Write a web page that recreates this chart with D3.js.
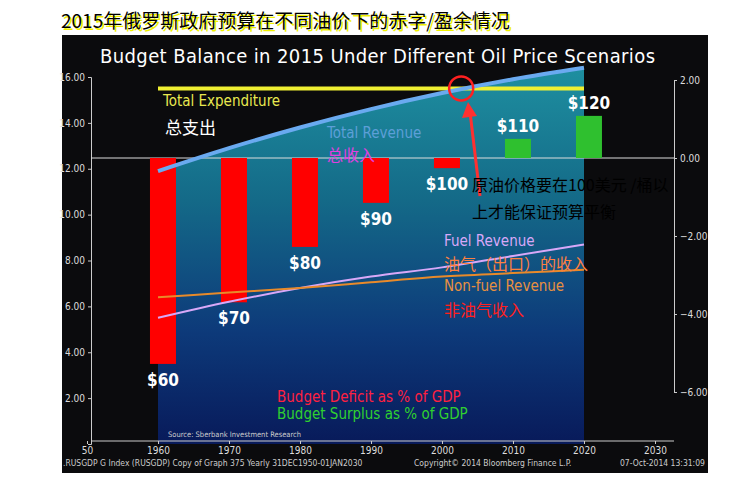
<!DOCTYPE html>
<html><head><meta charset="utf-8">
<script src="https://cdn.jsdelivr.net/npm/d3@7"></script>
<style>body{margin:0;background:#fff}svg{font-family:"DejaVu Sans Condensed",sans-serif}</style>
</head><body><svg id="c" width="732" height="503"></svg>
<script>
// data
var prices = ["$60","$70","$80","$90","$100","$110","$120"];
var balance = [-5.28,-3.7,-2.28,-1.15,-0.26,0.49,1.08];   // % of GDP, right axis
var years = [1960,1970,1980,1990,2000,2010,2020];
var totalRevenue = [11.9,12.9,13.8,14.6,15.3,15.9,16.4];
var totalExpenditure = [15.5,15.5,15.5,15.5,15.5,15.5,15.5];
var fuelRevenue = [5.5,6.2,6.8,7.3,7.7,8.2,8.7];
var nonFuelRevenue = [6.4,6.6,6.8,7.05,7.3,7.45,7.6];
var xTicks = [1950,1960,1970,1980,1990,2000,2010,2020,2030];
var leftTicks = [2,4,6,8,10,12,14,16];
var rightTicks = [-6,-4,-2,0,2];

var svg = d3.select("#c");
var x = d3.scaleLinear().domain([1950,2030]).range([87,655]);
var yL = d3.scaleLinear().domain([0,16]).range([444,77]);
var yR = d3.scaleLinear().domain([-6,2]).range([392,80]);

svg.append("rect").attr("x",62).attr("y",35).attr("width",646).attr("height",438).attr("fill","#0b0b0d");

var defs = svg.append("defs");
var g = defs.append("linearGradient").attr("id","ar").attr("x1",0).attr("y1",0).attr("x2",0).attr("y2",1);
g.append("stop").attr("offset","0%").attr("stop-color","#1e8fa0");
g.append("stop").attr("offset","35%").attr("stop-color","#146a88");
g.append("stop").attr("offset","70%").attr("stop-color","#0d3a7a");
g.append("stop").attr("offset","100%").attr("stop-color","#081a5a");

var area = d3.area().x(function(d,i){return x(years[i]);}).y0(yL(0)).y1(function(d){return yL(d);}).curve(d3.curveMonotoneX);
svg.append("path").datum(totalRevenue).attr("d",area).attr("fill","url(#ar)");

// axes
var ax = svg.append("g").attr("transform","translate(0,441)")
  .call(d3.axisBottom(x).tickValues(xTicks).tickSize(3).tickFormat(function(d){return d==1950?"50":d;}));
var al = svg.append("g").attr("transform","translate(91,0)").call(d3.axisLeft(yL).tickValues(leftTicks).tickSize(3).tickFormat(d3.format(".2f")));
var ar = svg.append("g").attr("transform","translate(674,0)").call(d3.axisRight(yR).tickValues(rightTicks).tickSize(3).tickFormat(d3.format(".2f")));
[ax,al,ar].forEach(function(a){
  a.selectAll("path,line").attr("stroke","#ccc");
  a.selectAll("text").attr("fill","#ddd").style("font-size","10px").style("font-family","'DejaVu Sans Condensed',sans-serif");
});
ax.select(".domain").attr("d","M91,0H674");

// zero line of right axis
svg.append("line").attr("x1",91).attr("x2",674).attr("y1",yR(0)).attr("y2",yR(0)).attr("stroke","#ddd").attr("stroke-width",1);

// bars
var bw = 26;
svg.selectAll(".bar").data(balance).enter().append("rect")
  .attr("x",function(d,i){return x(years[i]+0.7)-bw/2;})
  .attr("width",bw)
  .attr("y",function(d){return yR(Math.max(0,d));})
  .attr("height",function(d){return Math.abs(yR(d)-yR(0));})
  .attr("fill",function(d){return d<0?"#ff0000":"#2fc02f";});
svg.selectAll(".bl").data(balance).enter().append("text")
  .attr("x",function(d,i){return x(years[i]+0.7);})
  .attr("y",function(d){return d<0?yR(d)+22:yR(d)-7;})
  .attr("text-anchor","middle").attr("fill","#fff").style("font-weight","bold").style("font-size","17px")
  .text(function(d,i){return prices[i];});

function line(data,color,w){
  svg.append("path").datum(data).attr("fill","none").attr("stroke",color).attr("stroke-width",w)
    .attr("d",d3.line().x(function(d,i){return x(years[i]);}).y(function(d){return yL(d);}).curve(d3.curveMonotoneX));
}
line(totalExpenditure,"#f0f032",4);
line(totalRevenue,"#6aaaf0",4);
line(fuelRevenue,"#d8a8f8",2);
line(nonFuelRevenue,"#e88a2a",2);

function txt(t,xx,yy,col,sz,fam){
  return svg.append("text").attr("x",xx).attr("y",yy).attr("fill",col).style("font-size",sz+"px").style("font-family",fam||null).text(t);
}
var cjk = "'Noto Sans CJK SC',sans-serif";
txt("Budget Balance in 2015 Under Different Oil Price Scenarios",100,63,"#fff",20).attr("textLength",555);
txt("Total Expenditure",163,106,"#e8e850",15);
txt("总支出",165,134,"#fff",17,cjk);
txt("Total Revenue",327,138,"#5d9fd8",15);
txt("总收入",327,161,"#e040e0",16,cjk);
txt("Fuel Revenue",444,246,"#d8a8f8",15);
txt("油气（出口）的收入",444,270,"#ff8040",16,cjk);
txt("Non-fuel Revenue",444,291,"#e89040",15);
txt("非油气收入",444,316,"#ff2020",16,cjk);
txt("Budget Deficit as % of GDP",277,402,"#ff2040",15);
txt("Budget Surplus as % of GDP",277,419,"#30d030",15);
txt("Source: Sberbank Investment Research",168,437,"#ccc",7.5);
txt(".RUSGDP G Index (RUSGDP) Copy of Graph 375  Yearly 31DEC1950-01JAN2030",63,466,"#ccc",8.5);
txt("Copyright© 2014 Bloomberg Finance L.P.",414,466,"#ccc",8.5);
txt("07-Oct-2014 13:31:09",620,466,"#ccc",8.5);

// top chinese title with yellow shadow
txt("2015年俄罗斯政府预算在不同油价下的赤字/盈余情况",61,28,"#000",19,cjk).style("text-shadow","2px 2px 0 #f0f000");

// annotation
svg.append("circle").attr("cx",x(2002.7)).attr("cy",yL(15.5)).attr("r",12).attr("fill","none").attr("stroke","#ff2020").attr("stroke-width",2.5);
svg.append("line").attr("x1",480).attr("y1",196).attr("x2",470).attr("y2",112).attr("stroke","#ff3030").attr("stroke-width",3);
svg.append("path").attr("d","M462,118L468,102L477,116Z").attr("fill","#ff3030");
txt("原油价格要在100美元 /桶以",472,191,"#000",16,cjk);
txt("上才能保证预算平衡",472,218,"#000",16,cjk);
</script></body></html>
